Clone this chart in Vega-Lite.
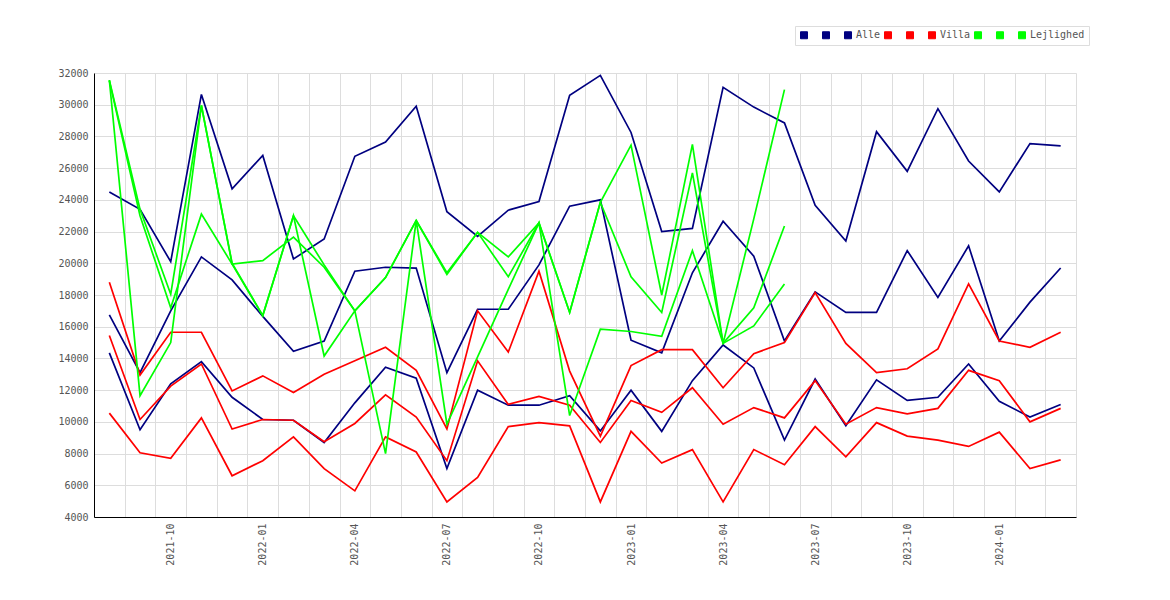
{
  "$schema": "https://vega.github.io/schema/vega-lite/v6.json",
  "width": 982,
  "height": 444,
  "autosize": {"type": "none"},
  "padding": {"left": 94, "top": 73, "right": 94, "bottom": 83},
  "background": "white",
  "config": {
    "view": {"stroke": null},
    "axis": {"labelFont": "DejaVu Sans Mono", "labelFontSize": 10, "labelColor": "#555555", "gridColor": "#dddddd", "domainColor": "#000000", "ticks": false, "title": null},
    "legend": {"labelFont": "DejaVu Sans Mono", "labelFontSize": 10, "labelColor": "#555555"}
  },
  "data": {
    "values": [
      {"m":"2021-08","s":"Alle_1","v":24500},{"m":"2021-09","s":"Alle_1","v":23400},{"m":"2021-10","s":"Alle_1","v":20100},{"m":"2021-11","s":"Alle_1","v":30650},
      {"m":"2021-12","s":"Alle_1","v":24700},{"m":"2022-01","s":"Alle_1","v":26800},{"m":"2022-02","s":"Alle_1","v":20270},{"m":"2022-03","s":"Alle_1","v":21530},
      {"m":"2022-04","s":"Alle_1","v":26750},{"m":"2022-05","s":"Alle_1","v":27650},{"m":"2022-06","s":"Alle_1","v":29900},{"m":"2022-07","s":"Alle_1","v":23250},
      {"m":"2022-08","s":"Alle_1","v":21700},{"m":"2022-09","s":"Alle_1","v":23350},{"m":"2022-10","s":"Alle_1","v":23900},{"m":"2022-11","s":"Alle_1","v":30600},
      {"m":"2022-12","s":"Alle_1","v":31850},{"m":"2023-01","s":"Alle_1","v":28250},{"m":"2023-02","s":"Alle_1","v":22000},{"m":"2023-03","s":"Alle_1","v":22200},
      {"m":"2023-04","s":"Alle_1","v":31100},{"m":"2023-05","s":"Alle_1","v":29850},{"m":"2023-06","s":"Alle_1","v":28850},{"m":"2023-07","s":"Alle_1","v":23650},
      {"m":"2023-08","s":"Alle_1","v":21400},{"m":"2023-09","s":"Alle_1","v":28300},{"m":"2023-10","s":"Alle_1","v":25800},{"m":"2023-11","s":"Alle_1","v":29750},
      {"m":"2023-12","s":"Alle_1","v":26450},{"m":"2024-01","s":"Alle_1","v":24500},{"m":"2024-02","s":"Alle_1","v":27550},{"m":"2024-03","s":"Alle_1","v":27400},

      {"m":"2021-08","s":"Alle_2","v":16750},{"m":"2021-09","s":"Alle_2","v":13100},{"m":"2021-10","s":"Alle_2","v":17000},{"m":"2021-11","s":"Alle_2","v":20400},
      {"m":"2021-12","s":"Alle_2","v":18950},{"m":"2022-01","s":"Alle_2","v":16650},{"m":"2022-02","s":"Alle_2","v":14450},{"m":"2022-03","s":"Alle_2","v":15100},
      {"m":"2022-04","s":"Alle_2","v":19500},{"m":"2022-05","s":"Alle_2","v":19750},{"m":"2022-06","s":"Alle_2","v":19700},{"m":"2022-07","s":"Alle_2","v":13100},
      {"m":"2022-08","s":"Alle_2","v":17100},{"m":"2022-09","s":"Alle_2","v":17100},{"m":"2022-10","s":"Alle_2","v":19900},{"m":"2022-11","s":"Alle_2","v":23600},
      {"m":"2022-12","s":"Alle_2","v":24000},{"m":"2023-01","s":"Alle_2","v":15150},{"m":"2023-02","s":"Alle_2","v":14350},{"m":"2023-03","s":"Alle_2","v":19400},
      {"m":"2023-04","s":"Alle_2","v":22650},{"m":"2023-05","s":"Alle_2","v":20450},{"m":"2023-06","s":"Alle_2","v":15100},{"m":"2023-07","s":"Alle_2","v":18200},
      {"m":"2023-08","s":"Alle_2","v":16900},{"m":"2023-09","s":"Alle_2","v":16900},{"m":"2023-10","s":"Alle_2","v":20800},{"m":"2023-11","s":"Alle_2","v":17850},
      {"m":"2023-12","s":"Alle_2","v":21100},{"m":"2024-01","s":"Alle_2","v":15100},{"m":"2024-02","s":"Alle_2","v":17550},{"m":"2024-03","s":"Alle_2","v":19700},

      {"m":"2021-08","s":"Alle","v":14350},{"m":"2021-09","s":"Alle","v":9500},{"m":"2021-10","s":"Alle","v":12400},{"m":"2021-11","s":"Alle","v":13800},
      {"m":"2021-12","s":"Alle","v":11550},{"m":"2022-01","s":"Alle","v":10150},{"m":"2022-02","s":"Alle","v":10100},{"m":"2022-03","s":"Alle","v":8700},
      {"m":"2022-04","s":"Alle","v":11200},{"m":"2022-05","s":"Alle","v":13450},{"m":"2022-06","s":"Alle","v":12750},{"m":"2022-07","s":"Alle","v":7050},
      {"m":"2022-08","s":"Alle","v":12000},{"m":"2022-09","s":"Alle","v":11050},{"m":"2022-10","s":"Alle","v":11050},{"m":"2022-11","s":"Alle","v":11650},
      {"m":"2022-12","s":"Alle","v":9430},{"m":"2023-01","s":"Alle","v":12000},{"m":"2023-02","s":"Alle","v":9400},{"m":"2023-03","s":"Alle","v":12600},
      {"m":"2023-04","s":"Alle","v":14850},{"m":"2023-05","s":"Alle","v":13400},{"m":"2023-06","s":"Alle","v":8850},{"m":"2023-07","s":"Alle","v":12700},
      {"m":"2023-08","s":"Alle","v":9750},{"m":"2023-09","s":"Alle","v":12650},{"m":"2023-10","s":"Alle","v":11350},{"m":"2023-11","s":"Alle","v":11550},
      {"m":"2023-12","s":"Alle","v":13650},{"m":"2024-01","s":"Alle","v":11300},{"m":"2024-02","s":"Alle","v":10300},{"m":"2024-03","s":"Alle","v":11100},

      {"m":"2021-08","s":"Villa_1","v":18800},{"m":"2021-09","s":"Villa_1","v":12950},{"m":"2021-10","s":"Villa_1","v":15650},{"m":"2021-11","s":"Villa_1","v":15650},
      {"m":"2021-12","s":"Villa_1","v":11950},{"m":"2022-01","s":"Villa_1","v":12900},{"m":"2022-02","s":"Villa_1","v":11850},{"m":"2022-03","s":"Villa_1","v":13000},
      {"m":"2022-04","s":"Villa_1","v":13850},{"m":"2022-05","s":"Villa_1","v":14700},{"m":"2022-06","s":"Villa_1","v":13250},{"m":"2022-07","s":"Villa_1","v":9550},
      {"m":"2022-08","s":"Villa_1","v":17000},{"m":"2022-09","s":"Villa_1","v":14400},{"m":"2022-10","s":"Villa_1","v":19500},{"m":"2022-11","s":"Villa_1","v":13200},
      {"m":"2022-12","s":"Villa_1","v":9100},{"m":"2023-01","s":"Villa_1","v":13550},{"m":"2023-02","s":"Villa_1","v":14550},{"m":"2023-03","s":"Villa_1","v":14550},
      {"m":"2023-04","s":"Villa_1","v":12150},{"m":"2023-05","s":"Villa_1","v":14300},{"m":"2023-06","s":"Villa_1","v":15000},{"m":"2023-07","s":"Villa_1","v":18150},
      {"m":"2023-08","s":"Villa_1","v":14950},{"m":"2023-09","s":"Villa_1","v":13100},{"m":"2023-10","s":"Villa_1","v":13350},{"m":"2023-11","s":"Villa_1","v":14600},
      {"m":"2023-12","s":"Villa_1","v":18700},{"m":"2024-01","s":"Villa_1","v":15100},{"m":"2024-02","s":"Villa_1","v":14700},{"m":"2024-03","s":"Villa_1","v":15650},

      {"m":"2021-08","s":"Villa_2","v":15450},{"m":"2021-09","s":"Villa_2","v":10150},{"m":"2021-10","s":"Villa_2","v":12250},{"m":"2021-11","s":"Villa_2","v":13650},
      {"m":"2021-12","s":"Villa_2","v":9550},{"m":"2022-01","s":"Villa_2","v":10150},{"m":"2022-02","s":"Villa_2","v":10100},{"m":"2022-03","s":"Villa_2","v":8750},
      {"m":"2022-04","s":"Villa_2","v":9900},{"m":"2022-05","s":"Villa_2","v":11700},{"m":"2022-06","s":"Villa_2","v":10300},{"m":"2022-07","s":"Villa_2","v":7550},
      {"m":"2022-08","s":"Villa_2","v":13850},{"m":"2022-09","s":"Villa_2","v":11100},{"m":"2022-10","s":"Villa_2","v":11600},{"m":"2022-11","s":"Villa_2","v":11050},
      {"m":"2022-12","s":"Villa_2","v":8700},{"m":"2023-01","s":"Villa_2","v":11350},{"m":"2023-02","s":"Villa_2","v":10600},{"m":"2023-03","s":"Villa_2","v":12150},
      {"m":"2023-04","s":"Villa_2","v":9850},{"m":"2023-05","s":"Villa_2","v":10900},{"m":"2023-06","s":"Villa_2","v":10250},{"m":"2023-07","s":"Villa_2","v":12600},
      {"m":"2023-08","s":"Villa_2","v":9850},{"m":"2023-09","s":"Villa_2","v":10900},{"m":"2023-10","s":"Villa_2","v":10500},{"m":"2023-11","s":"Villa_2","v":10850},
      {"m":"2023-12","s":"Villa_2","v":13250},{"m":"2024-01","s":"Villa_2","v":12600},{"m":"2024-02","s":"Villa_2","v":10000},{"m":"2024-03","s":"Villa_2","v":10850},

      {"m":"2021-08","s":"Villa","v":10550},{"m":"2021-09","s":"Villa","v":8050},{"m":"2021-10","s":"Villa","v":7700},{"m":"2021-11","s":"Villa","v":10250},
      {"m":"2021-12","s":"Villa","v":6600},{"m":"2022-01","s":"Villa","v":7550},{"m":"2022-02","s":"Villa","v":9050},{"m":"2022-03","s":"Villa","v":7050},
      {"m":"2022-04","s":"Villa","v":5650},{"m":"2022-05","s":"Villa","v":9050},{"m":"2022-06","s":"Villa","v":8100},{"m":"2022-07","s":"Villa","v":4950},
      {"m":"2022-08","s":"Villa","v":6500},{"m":"2022-09","s":"Villa","v":9700},{"m":"2022-10","s":"Villa","v":9950},{"m":"2022-11","s":"Villa","v":9750},
      {"m":"2022-12","s":"Villa","v":4950},{"m":"2023-01","s":"Villa","v":9400},{"m":"2023-02","s":"Villa","v":7400},{"m":"2023-03","s":"Villa","v":8250},
      {"m":"2023-04","s":"Villa","v":4950},{"m":"2023-05","s":"Villa","v":8250},{"m":"2023-06","s":"Villa","v":7300},{"m":"2023-07","s":"Villa","v":9700},
      {"m":"2023-08","s":"Villa","v":7800},{"m":"2023-09","s":"Villa","v":9950},{"m":"2023-10","s":"Villa","v":9100},{"m":"2023-11","s":"Villa","v":8850},
      {"m":"2023-12","s":"Villa","v":8450},{"m":"2024-01","s":"Villa","v":9350},{"m":"2024-02","s":"Villa","v":7050},{"m":"2024-03","s":"Villa","v":7600},

      {"m":"2021-08","s":"Lejlighed_1","v":31550},{"m":"2021-09","s":"Lejlighed_1","v":23400},{"m":"2021-10","s":"Lejlighed_1","v":18050},{"m":"2021-11","s":"Lejlighed_1","v":29950},
      {"m":"2021-12","s":"Lejlighed_1","v":19950},{"m":"2022-01","s":"Lejlighed_1","v":20170},{"m":"2022-02","s":"Lejlighed_1","v":21650},{"m":"2022-03","s":"Lejlighed_1","v":19750},
      {"m":"2022-04","s":"Lejlighed_1","v":17000},{"m":"2022-05","s":"Lejlighed_1","v":19100},{"m":"2022-06","s":"Lejlighed_1","v":22700},{"m":"2022-07","s":"Lejlighed_1","v":19400},
      {"m":"2022-08","s":"Lejlighed_1","v":21950},{"m":"2022-09","s":"Lejlighed_1","v":20400},{"m":"2022-10","s":"Lejlighed_1","v":22550},{"m":"2022-11","s":"Lejlighed_1","v":16900},
      {"m":"2022-12","s":"Lejlighed_1","v":23850},{"m":"2023-01","s":"Lejlighed_1","v":27450},{"m":"2023-02","s":"Lejlighed_1","v":18000},{"m":"2023-03","s":"Lejlighed_1","v":27500},
      {"m":"2023-04","s":"Lejlighed_1","v":14950},{"m":"2023-05","s":"Lejlighed_1","v":22800},{"m":"2023-06","s":"Lejlighed_1","v":30950},

      {"m":"2021-08","s":"Lejlighed_2","v":31500},{"m":"2021-09","s":"Lejlighed_2","v":23000},{"m":"2021-10","s":"Lejlighed_2","v":17200},{"m":"2021-11","s":"Lejlighed_2","v":23100},
      {"m":"2021-12","s":"Lejlighed_2","v":19950},{"m":"2022-01","s":"Lejlighed_2","v":16700},{"m":"2022-02","s":"Lejlighed_2","v":23000},{"m":"2022-03","s":"Lejlighed_2","v":19900},
      {"m":"2022-04","s":"Lejlighed_2","v":17000},{"m":"2022-05","s":"Lejlighed_2","v":19100},{"m":"2022-06","s":"Lejlighed_2","v":22700},{"m":"2022-07","s":"Lejlighed_2","v":19300},
      {"m":"2022-08","s":"Lejlighed_2","v":21950},{"m":"2022-09","s":"Lejlighed_2","v":19150},{"m":"2022-10","s":"Lejlighed_2","v":22550},{"m":"2022-11","s":"Lejlighed_2","v":16900},
      {"m":"2022-12","s":"Lejlighed_2","v":23850},{"m":"2023-01","s":"Lejlighed_2","v":19150},{"m":"2023-02","s":"Lejlighed_2","v":16900},{"m":"2023-03","s":"Lejlighed_2","v":25700},
      {"m":"2023-04","s":"Lejlighed_2","v":14950},{"m":"2023-05","s":"Lejlighed_2","v":17200},{"m":"2023-06","s":"Lejlighed_2","v":22350},

      {"m":"2021-08","s":"Lejlighed","v":31550},{"m":"2021-09","s":"Lejlighed","v":11650},{"m":"2021-10","s":"Lejlighed","v":15000},{"m":"2021-11","s":"Lejlighed","v":29950},
      {"m":"2021-12","s":"Lejlighed","v":20000},{"m":"2022-01","s":"Lejlighed","v":16700},{"m":"2022-02","s":"Lejlighed","v":23000},{"m":"2022-03","s":"Lejlighed","v":14150},
      {"m":"2022-04","s":"Lejlighed","v":17000},{"m":"2022-05","s":"Lejlighed","v":8000},{"m":"2022-06","s":"Lejlighed","v":22700},{"m":"2022-07","s":"Lejlighed","v":9850},
      {"m":"2022-08","s":"Lejlighed","v":14100},{"m":"2022-09","s":"Lejlighed","v":18350},{"m":"2022-10","s":"Lejlighed","v":22550},{"m":"2022-11","s":"Lejlighed","v":10400},
      {"m":"2022-12","s":"Lejlighed","v":15850},{"m":"2023-01","s":"Lejlighed","v":15700},{"m":"2023-02","s":"Lejlighed","v":15400},{"m":"2023-03","s":"Lejlighed","v":20800},
      {"m":"2023-04","s":"Lejlighed","v":14950},{"m":"2023-05","s":"Lejlighed","v":16050},{"m":"2023-06","s":"Lejlighed","v":18700}
    ]
  },
  "mark": {"type": "line", "strokeWidth": 1.7},
  "encoding": {
    "x": {
      "field": "m",
      "type": "ordinal",
      "bandPosition": 0.5,
      "scale": {
        "type": "band", "paddingInner": 0, "paddingOuter": 0,
        "domain": ["2021-08","2021-09","2021-10","2021-11","2021-12","2022-01","2022-02","2022-03","2022-04","2022-05","2022-06","2022-07","2022-08","2022-09","2022-10","2022-11","2022-12","2023-01","2023-02","2023-03","2023-04","2023-05","2023-06","2023-07","2023-08","2023-09","2023-10","2023-11","2023-12","2024-01","2024-02","2024-03"]
      },
      "axis": {
        "tickBand": "extent",
        "grid": true,
        "labelAngle": -90,
        "labelAlign": "right",
        "labelBaseline": "middle",
        "labelPadding": 6,
        "labelOverlap": false,
        "labelExpr": "indexof(['01','04','07','10'], substring(datum.label, 5, 7)) >= 0 ? datum.label : ''"
      }
    },
    "y": {
      "field": "v",
      "type": "quantitative",
      "scale": {"domain": [4000, 32000], "nice": false, "zero": false},
      "axis": {
        "values": [4000,6000,8000,10000,12000,14000,16000,18000,20000,22000,24000,26000,28000,30000,32000],
        "format": "d",
        "labelPadding": 6,
        "grid": true
      }
    },
    "color": {
      "field": "s",
      "type": "nominal",
      "scale": {
        "domain": ["Alle_1","Alle_2","Alle","Villa_1","Villa_2","Villa","Lejlighed_1","Lejlighed_2","Lejlighed"],
        "range": ["#000080","#000080","#000080","#ff0000","#ff0000","#ff0000","#00ff00","#00ff00","#00ff00"]
      },
      "legend": {
        "title": null,
        "orient": "none",
        "legendX": 701,
        "legendY": -47,
        "direction": "horizontal",
        "columns": 9,
        "symbolType": "square",
        "symbolSize": 49,
        "labelOffset": 3,
        "columnPadding": 1,
        "padding": 4,
        "strokeColor": "#dddddd",
        "fillColor": "#ffffff",
        "labelExpr": "indexof(datum.label, '_') >= 0 ? 'x' : datum.label",
        "encode": {
          "symbols": {
            "update": {
              "fill": {"scale": "color", "field": "value"},
              "fillOpacity": {"value": 1},
              "stroke": {"value": "#777777"},
              "strokeWidth": {"value": 1}
            }
          },
          "labels": {
            "update": {
              "opacity": {"signal": "indexof(datum.label, '_') >= 0 ? 0 : 1"}
            }
          }
        }
      }
    }
  }
}
